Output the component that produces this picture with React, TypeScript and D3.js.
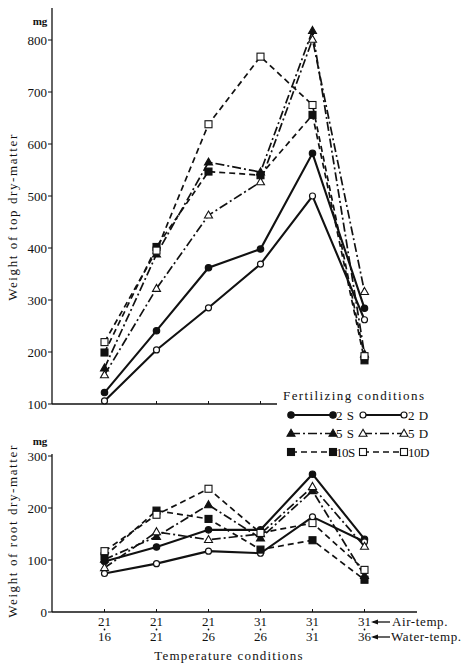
import React from "react";
import * as d3 from "d3";

const airTemps = ["21", "21", "21", "31", "31", "31"];
const waterTemps = ["16", "21", "26", "26", "31", "36"];

const seriesNames = ["2S", "2D", "5S", "5D", "10S", "10D"];
const legendLabels = ["2 S", "2 D", "5 S", "5 D", "10S", "10D"];

const top2S = [122, 241, 362, 398, 582, 284];
const top2D = [106, 204, 285, 369, 500, 262];
const top5S = [169, 388, 565, 546, 818, 196];
const top5D = [156, 322, 463, 527, 801, 316];
const top10S = [199, 402, 547, 540, 656, 184];
const top10D = [219, 395, 638, 768, 675, 192];

const root2S = [97, 125, 158, 158, 265, 140];
const root2D = [74, 93, 117, 113, 183, 135];
const root5S = [101, 145, 206, 142, 233, 70];
const root5D = [85, 154, 139, 150, 241, 126];
const root10S = [107, 195, 179, 120, 138, 62];
const root10D = [117, 187, 237, 152, 171, 81];

const topTicks = [100, 200, 300, 400, 500, 600, 700, 800];
const rootTicks = [0, 100, 200, 300];

const FONT = "'Liberation Serif', 'Times New Roman', serif";
const INK = "#111";

type Style = { shape: "circle" | "triangle" | "square"; filled: boolean; dash: string; width: number };
const styles: Record<string, Style> = {
  "2S": { shape: "circle", filled: true, dash: "", width: 2.1 },
  "2D": { shape: "circle", filled: false, dash: "", width: 2.1 },
  "5S": { shape: "triangle", filled: true, dash: "9,3,2,3", width: 1.7 },
  "5D": { shape: "triangle", filled: false, dash: "9,3,2,3", width: 1.7 },
  "10S": { shape: "square", filled: true, dash: "6,4", width: 1.7 },
  "10D": { shape: "square", filled: false, dash: "6,4", width: 1.7 },
};

const topData: Record<string, number[]> = {
  "2S": top2S, "2D": top2D, "5S": top5S, "5D": top5D, "10S": top10S, "10D": top10D,
};
const rootData: Record<string, number[]> = {
  "2S": root2S, "2D": root2D, "5S": root5S, "5D": root5D, "10S": root10S, "10D": root10D,
};

function Marker({ s, x, y }: { s: Style; x: number; y: number }) {
  const fill = s.filled ? INK : "#fff";
  if (s.shape === "circle") {
    return <circle cx={x} cy={y} r={s.filled ? 3.2 : 3} fill={fill} stroke={INK} strokeWidth={1.2} />;
  }
  if (s.shape === "triangle") {
    const h = 7, w = 8;
    return (
      <path
        d={`M${x},${y - h * 0.6} L${x + w / 2},${y + h * 0.4} L${x - w / 2},${y + h * 0.4} Z`}
        fill={fill}
        stroke={INK}
        strokeWidth={1.1}
      />
    );
  }
  return <rect x={x - 3.5} y={y - 3.5} width={7} height={7} fill={fill} stroke={INK} strokeWidth={1.1} />;
}

export default function App() {
  const x = d3.scaleLinear().domain([0, 5]).range([104.5, 364.5]);
  const yTop = d3.scaleLinear().domain([100, 800]).range([404, 40]);
  const yRoot = d3.scaleLinear().domain([0, 300]).range([612, 456]);
  const axisX = 52;

  const lineFor = (y: d3.ScaleLinear<number, number>) =>
    d3.line<number>().x((_, i) => x(i)).y((v) => y(v));

  const drawSeries = (data: Record<string, number[]>, y: d3.ScaleLinear<number, number>) =>
    seriesNames.map((name) => {
      const s = styles[name];
      const vals = data[name];
      return (
        <g key={name}>
          <path d={lineFor(y)(vals) || ""} fill="none" stroke={INK} strokeWidth={s.width} strokeDasharray={s.dash} />
          {vals.map((v, i) => (
            <Marker key={i} s={s} x={x(i)} y={y(v)} />
          ))}
        </g>
      );
    });

  const legendRows = [0, 1, 2];
  const legendY = [415, 433.5, 452];

  return (
    <svg width={474} height={669} style={{ position: "absolute", left: 0, top: 0, background: "#fff" }} fontFamily={FONT}>
      <rect width={474} height={669} fill="#fff" />
      {/* Top chart axes */}
      <line x1={axisX} x2={axisX} y1={8} y2={404} stroke={INK} strokeWidth={1.3} />
      <line x1={axisX} x2={277} y1={404} y2={404} stroke={INK} strokeWidth={1.3} />
      {[0, 1, 2, 3].map((i) => (
        <line key={i} x1={x(i)} x2={x(i)} y1={404} y2={401} stroke={INK} strokeWidth={1} />
      ))}
      {topTicks.map((t) => (
        <g key={t}>
          <line x1={axisX - 4} x2={axisX} y1={yTop(t)} y2={yTop(t)} stroke={INK} strokeWidth={1} />
          <text x={axisX - 5} y={yTop(t)} dy="0.35em" textAnchor="end" fontSize={13} fill={INK}>
            {t}
          </text>
        </g>
      ))}
      <text x={40} y={25} textAnchor="middle" fontSize={11} fontWeight="bold" fill={INK}>mg</text>
      <text
        transform={`translate(17,217) rotate(-90)`}
        textAnchor="middle"
        fontSize={13}
        letterSpacing={1.6}
        fill={INK}
      >
        Weight of top dry-matter
      </text>
      {drawSeries(topData, yTop)}

      {/* Legend */}
      <text x={283} y={400} fontSize={13} letterSpacing={1.4} fill={INK}>Fertilizing conditions</text>
      {legendRows.map((r) => {
        const nS = seriesNames[r * 2];
        const nD = seriesNames[r * 2 + 1];
        const y = legendY[r];
        return (
          <g key={r}>
            <line x1={291} x2={333} y1={y} y2={y} stroke={INK} strokeWidth={styles[nS].width} strokeDasharray={styles[nS].dash} />
            <Marker s={styles[nS]} x={291} y={y} />
            <Marker s={styles[nS]} x={333} y={y} />
            <text x={336} y={y} dy="0.35em" fontSize={13} letterSpacing={r === 2 ? -0.5 : 0.5} fill={INK}>
              {legendLabels[r * 2]}
            </text>
            <line x1={363} x2={404} y1={y} y2={y} stroke={INK} strokeWidth={styles[nD].width} strokeDasharray={styles[nD].dash} />
            <Marker s={styles[nD]} x={363} y={y} />
            <Marker s={styles[nD]} x={404} y={y} />
            <text x={408} y={y} dy="0.35em" fontSize={13} letterSpacing={r === 2 ? -0.5 : 0.5} fill={INK}>
              {legendLabels[r * 2 + 1]}
            </text>
          </g>
        );
      })}

      {/* Root chart axes */}
      <line x1={axisX} x2={axisX} y1={454} y2={612} stroke={INK} strokeWidth={1.3} />
      <line x1={axisX} x2={417} y1={612} y2={612} stroke={INK} strokeWidth={1.3} />
      {airTemps.map((_, i) => (
        <line key={i} x1={x(i)} x2={x(i)} y1={612} y2={609} stroke={INK} strokeWidth={1} />
      ))}
      {rootTicks.map((t) => (
        <g key={t}>
          <line x1={axisX - 4} x2={axisX} y1={yRoot(t)} y2={yRoot(t)} stroke={INK} strokeWidth={1} />
          <text x={axisX - 5} y={yRoot(t)} dy="0.35em" textAnchor="end" fontSize={13} fill={INK}>
            {t}
          </text>
        </g>
      ))}
      <text x={40} y={445} textAnchor="middle" fontSize={11} fontWeight="bold" fill={INK}>mg</text>
      <text
        transform={`translate(17,531) rotate(-90)`}
        textAnchor="middle"
        fontSize={13}
        letterSpacing={1.6}
        fill={INK}
      >
        Weight of root dry-matter
      </text>
      {drawSeries(rootData, yRoot)}

      {/* Category labels */}
      {airTemps.map((a, i) => (
        <g key={i}>
          <text x={x(i)} y={626} textAnchor="middle" fontSize={13} fill={INK}>{a}</text>
          <circle cx={x(i)} cy={629.5} r={0.9} fill={INK} />
          <text x={x(i)} y={641} textAnchor="middle" fontSize={13} fill={INK}>{waterTemps[i]}</text>
        </g>
      ))}
      {[622, 637].map((yy, k) => (
        <g key={k}>
          <line x1={373} x2={390} y1={yy} y2={yy} stroke={INK} strokeWidth={1.3} />
          <path d={`M371,${yy} L378,${yy - 2.5} L378,${yy + 2.5} Z`} fill={INK} />
        </g>
      ))}
      <text x={392} y={626} fontSize={13} letterSpacing={0.6} fill={INK}>Air-temp.</text>
      <text x={391} y={641} fontSize={13} letterSpacing={0.6} fill={INK}>Water-temp.</text>
      <text x={229} y={660} textAnchor="middle" fontSize={13} letterSpacing={1.2} fill={INK}>
        Temperature conditions
      </text>
    </svg>
  );
}
